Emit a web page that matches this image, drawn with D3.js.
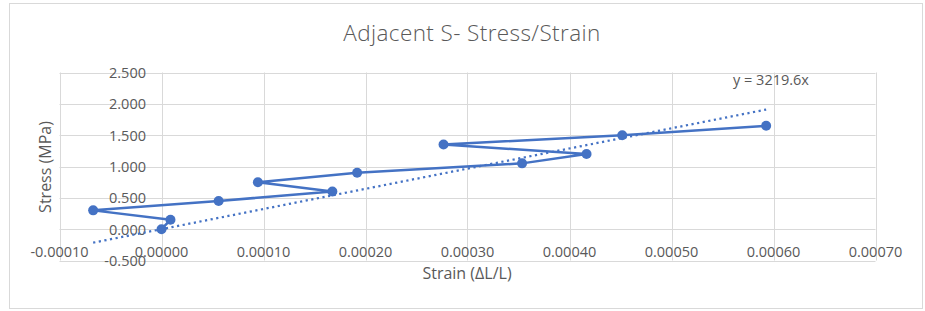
<!DOCTYPE html>
<html>
<head>
<meta charset="utf-8">
<script src="https://cdn.jsdelivr.net/npm/d3@7"></script>
<style>
html, body { margin: 0; padding: 0; background: #fff; }
svg text { font-family: "Open Sans", sans-serif; fill: #595959; }
</style>
</head>
<body>
<svg id="chart" width="925" height="311"></svg>
<script>
// readings in loading order (strain, stress)
var strain = [0.0000000, 0.0000088, -0.0000670, 0.0000560, 0.0001675, 0.0000945,
    0.0001918, 0.0003535, 0.0004167, 0.0002765, 0.0004517, 0.0005928];
var stress = [0.00, 0.15, 0.30, 0.45, 0.60, 0.75, 0.90, 1.05, 1.20, 1.35, 1.50, 1.65];
var xTicks = [-0.0001, 0, 0.0001, 0.0002, 0.0003, 0.0004, 0.0005, 0.0006, 0.0007];
var yTicks = [-0.5, 0, 0.5, 1.0, 1.5, 2.0, 2.5];
var slope = 3219.6;

function draw(elem) {
    var svg = d3.select(elem);
    var blue = '#4472C4', grid = '#d9d9d9';

    svg.append('rect')
        .attr('x', 9.5).attr('y', 3.5)
        .attr('width', 913).attr('height', 305)
        .attr('fill', '#fff').attr('stroke', grid);

    var x = d3.scaleLinear().domain([-0.0001, 0.0007]).range([59.5, 875.5]);
    var y = d3.scaleLinear().domain([-0.5, 2.5]).range([260.5, 72.5]);

    var g = svg.append('g');
    g.selectAll('line.vg').data(xTicks).enter().append('line')
        .attr('x1', function(d) { return Math.round(x(d)) + 0.5; })
        .attr('x2', function(d) { return Math.round(x(d)) + 0.5; })
        .attr('y1', y(2.5)).attr('y2', y(-0.5))
        .attr('stroke', grid);
    g.selectAll('line.hg').data(yTicks).enter().append('line')
        .attr('y1', function(d) { return Math.round(y(d)) + 0.5; })
        .attr('y2', function(d) { return Math.round(y(d)) + 0.5; })
        .attr('x1', x(-0.0001)).attr('x2', x(0.0007))
        .attr('stroke', grid);

    // tick labels sit next to the axes at zero
    g.selectAll('text.xl').data(xTicks).enter().append('text')
        .attr('x', function(d) { return x(d); })
        .attr('y', 257)
        .attr('text-anchor', 'middle')
        .attr('font-size', 14.5)
        .text(function(d) { return d3.format('.5f')(d).replace('−', '-'); });
    g.selectAll('text.yl').data(yTicks).enter().append('text')
        .attr('x', 146)
        .attr('y', function(d) { return y(d) + 5.5; })
        .attr('text-anchor', 'end')
        .attr('font-size', 14.5)
        .text(function(d) { return d3.format('.3f')(d).replace('−', '-'); });

    // trendline through origin over the data range
    var ext = d3.extent(strain);
    svg.append('line')
        .attr('x1', x(ext[0])).attr('y1', y(slope * ext[0]))
        .attr('x2', x(ext[1])).attr('y2', y(slope * ext[1]))
        .attr('stroke', blue).attr('stroke-width', 2.25)
        .attr('stroke-dasharray', '2.2 3.5');

    var pts = strain.map(function(s, i) { return [s, stress[i]]; });
    var line = d3.line()
        .x(function(d) { return x(d[0]); })
        .y(function(d) { return y(d[1]); });
    svg.append('path').datum(pts)
        .attr('d', line)
        .attr('fill', 'none')
        .attr('stroke', blue).attr('stroke-width', 2.5)
        .attr('stroke-linejoin', 'round');
    svg.selectAll('circle.pt').data(pts).enter().append('circle')
        .attr('cx', function(d) { return x(d[0]); })
        .attr('cy', function(d) { return y(d[1]); })
        .attr('r', 5)
        .attr('fill', blue);

    svg.append('text')
        .attr('x', 771).attr('y', 85)
        .attr('text-anchor', 'middle')
        .attr('font-size', 14.5)
        .text('y = 3219.6x');

    svg.append('text')
        .attr('x', 472).attr('y', 41)
        .attr('text-anchor', 'middle')
        .attr('font-size', 22.5)
        .attr('font-weight', 300)
        .attr('letter-spacing', 0.4)
        .text('Adjacent S- Stress/Strain');

    svg.append('text')
        .attr('x', 467).attr('y', 279)
        .attr('text-anchor', 'middle')
        .attr('font-size', 16)
        .text('Strain (ΔL/L)');

    svg.append('text')
        .attr('transform', 'translate(51,167) rotate(-90)')
        .attr('text-anchor', 'middle')
        .attr('font-size', 16)
        .text('Stress (MPa)');
}

draw(document.getElementById('chart'));
</script>
</body>
</html>
